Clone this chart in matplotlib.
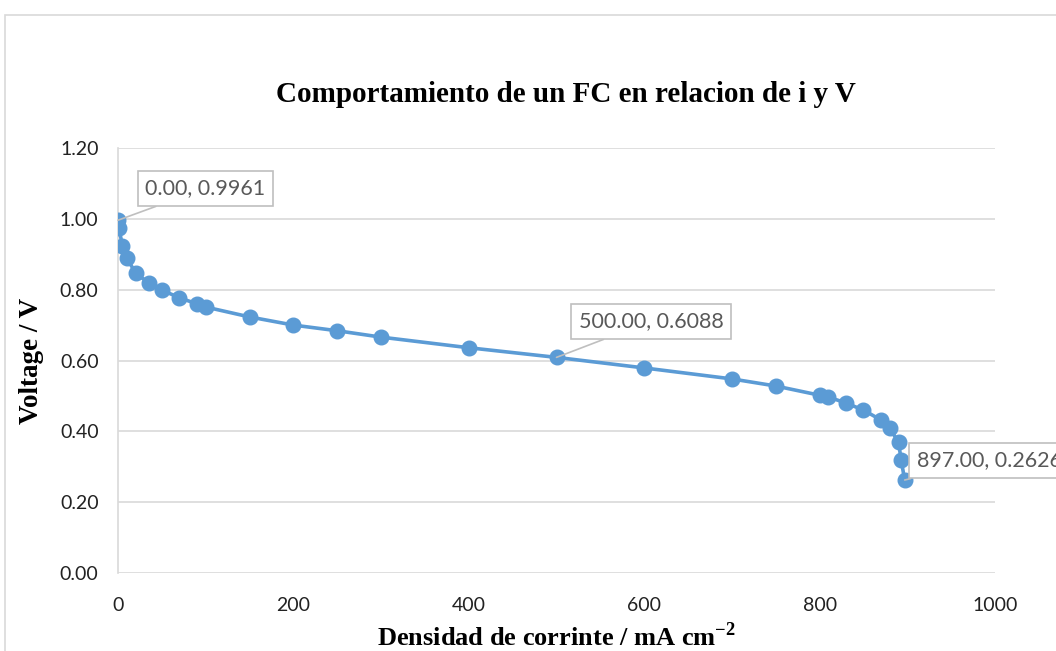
import matplotlib
matplotlib.use("Agg")
import matplotlib.pyplot as plt
from matplotlib.patches import Rectangle

# densidad de corriente (mA cm-2) y voltaje (V)
i_dens = [0, 1, 5, 10, 20, 35, 50, 70, 90, 100, 150, 200, 250, 300, 400, 500,
          600, 700, 750, 800, 810, 830, 850, 870, 880, 890, 893, 897]
volt = [0.9961, 0.975, 0.924, 0.890, 0.847, 0.819, 0.799, 0.777, 0.760, 0.751,
        0.723, 0.700, 0.684, 0.666, 0.636, 0.6088, 0.579, 0.548, 0.528, 0.502,
        0.497, 0.480, 0.460, 0.432, 0.409, 0.369, 0.319, 0.2626]
labelled = [0, 15, 27]   # puntos con etiqueta
label_offsets = [(63, 23), (68, 26), (61, 14)]

xticks = [0, 200, 400, 600, 800, 1000]
yticks = [0.0, 0.2, 0.4, 0.6, 0.8, 1.0, 1.2]

blue = "#5B9BD5"
grey = "#D9D9D9"
txt = "#595959"

plt.rcParams["mathtext.fontset"] = "custom"
plt.rcParams["mathtext.bf"] = "Liberation Serif:bold"
plt.rcParams["mathtext.rm"] = "Liberation Serif"

fig = plt.figure(figsize=(10.56, 6.51), dpi=100)
fig.patches.append(Rectangle((5/1056, -0.1), 1.2, 1 - 15/651 + 0.1,
                             transform=fig.transFigure, fill=False,
                             edgecolor=grey, linewidth=1.2))
ax = fig.add_axes([118/1056, 1 - 573/651, (995-118)/1056, (573-148)/651])

ax.plot(i_dens, volt, color=blue, lw=2.6, marker="o", ms=10.5, zorder=3)

ax.set_xlim(0, 1000)
ax.set_ylim(0, 1.2)
ax.set_xticks(xticks)
ax.set_yticks(yticks)
ax.set_yticklabels(["%.2f" % v for v in yticks])
ax.grid(axis="y", color=grey, lw=1.2)
ax.set_axisbelow(True)
for s in ["top", "right", "bottom"]:
    ax.spines[s].set_visible(False)
ax.spines["left"].set_color(grey)
ax.spines["left"].set_linewidth(1.2)
ax.tick_params(length=0, labelsize=14, labelcolor="#222222")
ax.tick_params(axis="y", pad=14)
ax.tick_params(axis="x", pad=17)
for t in ax.get_xticklabels() + ax.get_yticklabels():
    t.set_fontfamily("Lato")

serif = "Liberation Serif"
fig.text(566/1056, 1 - 95/651, "Comportamiento de un FC en relacion de i y V",
         fontsize=21, fontweight="bold", family=serif, ha="center", va="center")
fig.text(556/1056, 1 - 637/651, "Densidad de corrinte / mA cm$^{\\mathbf{-2}}$",
         fontsize=19, fontweight="bold", family=serif, ha="center", va="center")
fig.text(32/1056, 1 - 361/651, "Voltage / V", fontsize=19.5, fontweight="bold",
         family=serif, rotation=90, ha="center", va="center")

for k, off in zip(labelled, label_offsets):
    ax.annotate("%.2f, %.4f" % (i_dens[k], volt[k]), (i_dens[k], volt[k]),
                xytext=off, textcoords="offset points", ha="center", va="center",
                fontsize=15.5, color=txt, family="Lato", annotation_clip=False,
                bbox=dict(boxstyle="square,pad=0.35", fc="white", ec="#BFBFBF", lw=1.2),
                arrowprops=dict(arrowstyle="-", color="#BFBFBF", lw=1.2,
                                shrinkA=0, shrinkB=0), zorder=5)

fig.savefig("out.png", dpi=100)
